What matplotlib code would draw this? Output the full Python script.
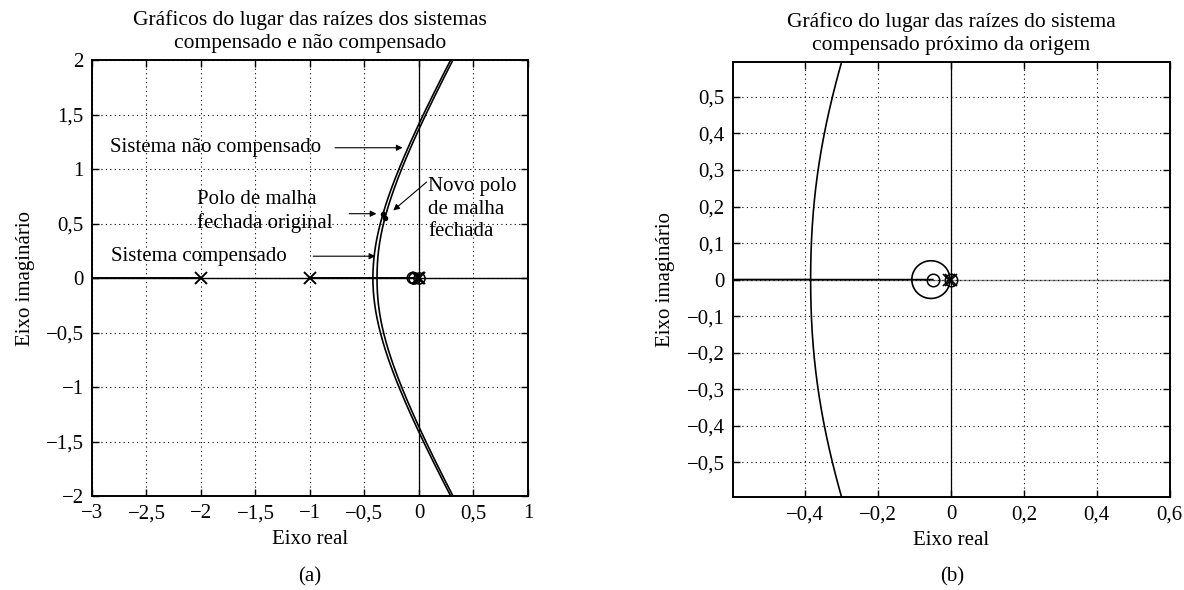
import itertools
import numpy as np
import matplotlib
matplotlib.use("Agg")
import matplotlib.pyplot as plt
from matplotlib.ticker import FuncFormatter

plt.rcParams['font.family'] = ['Liberation Serif', 'DejaVu Serif']
plt.rcParams['font.size'] = 15

# Open-loop systems: G(s) = K * prod(s - z) / prod(s - p)
unc_poles = [0.0, -1.0, -2.0]
unc_zeros = []
comp_poles = [0.0, -0.005, -1.0, -2.0]
comp_zeros = [-0.05]

# Closed-loop dominant poles (upper half-plane)
orig_cl_pole = (-0.3307, 0.5864)
new_cl_pole = (-0.3112, 0.5497)

# Pole / zero symbols shown on the plots
x_marks = [-2.0, -1.0, -0.005, 0.0]
o_marks = [-0.05, 0.0]

xticks_a = [-3, -2.5, -2, -1.5, -1, -0.5, 0, 0.5, 1]
yticks_a = [-2, -1.5, -1, -0.5, 0, 0.5, 1, 1.5, 2]
xticks_b = [-0.4, -0.2, 0, 0.2, 0.4, 0.6]
yticks_b = [-0.5, -0.4, -0.3, -0.2, -0.1, 0, 0.1, 0.2, 0.3, 0.4, 0.5]


def gain_grid(den, num):
    """Log-spaced gains, refined around the break-away / break-in gains."""
    g = [np.logspace(-8, 4, 4000)]
    crit = np.polysub(np.polymul(num, np.polyder(den)), np.polymul(np.polyder(num), den))
    for s in np.roots(crit):
        if abs(s.imag) < 1e-9:
            kb = -np.polyval(den, s.real) / np.polyval(num, s.real)
            if kb > 0:
                d = np.logspace(-14, -0.5, 400)
                g.append(kb * (1 - d))
                g.append(kb * (1 + d))
                g.append([kb])
    g = np.concatenate(g)
    return np.concatenate([[0.0], np.unique(g[g > 0])])


def root_locus(poles, zeros):
    den = np.poly(poles)
    num = np.poly(zeros) if len(zeros) else np.array([1.0])
    gains = gain_grid(den, num)
    num = np.concatenate([np.zeros(len(den) - len(num)), num])
    n = len(poles)
    branches = np.empty((len(gains), n), dtype=complex)
    prev = np.sort_complex(np.array(poles, dtype=complex))
    perms = list(itertools.permutations(range(n)))
    for i, k in enumerate(gains):
        r = np.roots(den + k * num)
        best = min(perms, key=lambda p: np.sum(np.abs(r[list(p)] - prev)))
        prev = r[list(best)]
        branches[i] = prev
    return branches


unc = root_locus(unc_poles, unc_zeros)
comp = root_locus(comp_poles, comp_zeros)


def fmt(v, pos):
    if abs(v) < 1e-9:
        return "0"
    s = f"{v:g}".replace('.', ',')
    return s.replace('-', '\u2212')


def style_axes(ax, xt, yt, xlim, ylim, hcolor):
    ax.set_xlim(*xlim)
    ax.set_ylim(*ylim)
    ax.set_xticks(xt)
    ax.set_yticks(yt)
    ax.xaxis.set_major_formatter(FuncFormatter(fmt))
    ax.yaxis.set_major_formatter(FuncFormatter(fmt))
    ax.tick_params(direction='in', top=True, right=True, length=5, width=1.0,
                   labelsize=15, pad=6)
    ax.grid(True, color='black', linestyle=(0, (1, 3)), linewidth=0.8)
    for sp in ax.spines.values():
        sp.set_linewidth(1.4)
    ax.axhline(0, color=hcolor, lw=1.0, zorder=1)
    ax.axvline(0, color='black', lw=0.9, zorder=1)
    ax.set_xlabel('Eixo real', labelpad=5)
    ax.set_ylabel('Eixo imaginário', labelpad=8)


fig = plt.figure(figsize=(11.84, 5.90), dpi=100)
axa = fig.add_axes([0.0777, 0.1593, 0.3682, 0.739])
axb = fig.add_axes([0.619, 0.1576, 0.369, 0.737])

# ---- (a) both systems ----
style_axes(axa, xticks_a, yticks_a, (-3, 1), (-2, 2), 'black')
for j in range(unc.shape[1]):
    axa.plot(unc[:, j].real, unc[:, j].imag, color='black', lw=1.2, zorder=3)
for j in range(comp.shape[1]):
    axa.plot(comp[:, j].real, comp[:, j].imag, color='black', lw=1.2, zorder=3)
axa.plot(x_marks, np.zeros(len(x_marks)), 'x', color='black', ms=9, mew=1.4, zorder=4)
axa.plot(o_marks, np.zeros(len(o_marks)), 'o', mfc='none', mec='black', ms=8, mew=1.1, zorder=4)
axa.plot([orig_cl_pole[0], new_cl_pole[0]], [orig_cl_pole[1], new_cl_pole[1]], 'o',
         color='black', ms=3, zorder=5)
axa.set_title('Gráficos do lugar das raízes dos sistemas\ncompensado e não compensado',
              fontsize=15.5, pad=9, linespacing=1.25)

arrow = dict(arrowstyle='-|>', lw=0.8, color='black', mutation_scale=9,
             shrinkA=0, shrinkB=0)
axa.annotate('', xy=(-0.15, 1.195), xytext=(-0.77, 1.195), arrowprops=arrow)
axa.text(-2.835, 1.2, 'Sistema não compensado', ha='left', va='center')
axa.annotate('', xy=(-0.39, 0.59), xytext=(-0.64, 0.59), arrowprops=arrow)
axa.text(-2.04, 0.61, 'Polo de malha\nfechada original', ha='left', va='center',
         linespacing=1.25)
axa.annotate('', xy=(-0.236, 0.62), xytext=(0.07, 0.88), arrowprops=arrow)
axa.text(0.085, 0.63, 'Novo polo\nde malha\nfechada', ha='left', va='center',
         linespacing=1.25)
axa.annotate('', xy=(-0.40, 0.2), xytext=(-0.97, 0.2), arrowprops=arrow)
axa.text(-2.83, 0.2, 'Sistema compensado', ha='left', va='center')

# ---- (b) compensated system near the origin ----
style_axes(axb, xticks_b, yticks_b, (-0.598, 0.6), (-0.595, 0.595), '0.55')
for j in range(comp.shape[1]):
    axb.plot(comp[:, j].real, comp[:, j].imag, color='black', lw=1.2, zorder=3)
axb.plot(x_marks, np.zeros(len(x_marks)), 'x', color='black', ms=9, mew=1.2, zorder=4)
axb.plot(o_marks, np.zeros(len(o_marks)), 'o', mfc='none', mec='black', ms=9, mew=1.1, zorder=4)
axb.set_title('Gráfico do lugar das raízes do sistema\ncompensado próximo da origem',
              fontsize=15.5, pad=9, linespacing=1.25)

fig.text(310 / 1184, 1 - 577 / 590, '(a)', ha='center', va='center')
fig.text(952 / 1184, 1 - 577 / 590, '(b)', ha='center', va='center')

fig.savefig('out.png', dpi=100, facecolor='white')
